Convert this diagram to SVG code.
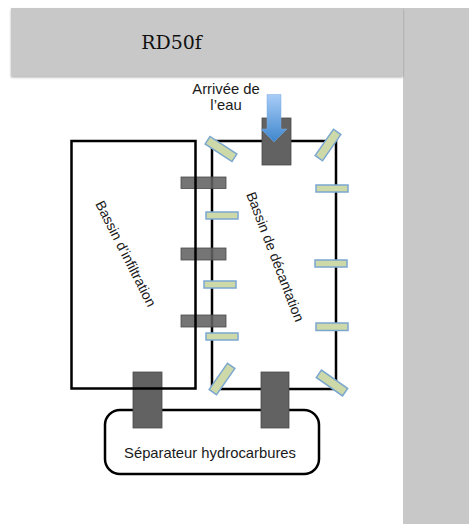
<svg xmlns="http://www.w3.org/2000/svg" width="469" height="524" viewBox="0 0 469 524">
<defs>
<linearGradient id="blue" x1="0" y1="0" x2="0" y2="1"><stop offset="0" stop-color="#a9cdf8"/><stop offset="1" stop-color="#3e86cd"/></linearGradient>
<filter id="sh" x="-5%" y="-5%" width="110%" height="115%"><feDropShadow dx="0" dy="1.500" stdDeviation="1" flood-color="#000" flood-opacity=".3"/></filter>
</defs>
<style>
.basin{fill:none;stroke:#000;stroke-width:2.500}
.block{fill:#626262;stroke:#4a4a4a;stroke-width:.8}
.thin{fill-opacity:.88}
.gate{fill:#cdd9a8;stroke:#7ba7cf;stroke-width:1.500}
text{font-family:"Liberation Sans",Arial,sans-serif;font-size:14.800px;fill:#1a1a1a;text-anchor:middle}
.rot{font-size:14px}
</style>
<rect width="469" height="524" fill="#fff"/>
<g id="side"><rect x="403" y="8" width="66" height="516" fill="#c8c8c8"/></g>
<g id="header"><rect x="11" y="8" width="392" height="68" fill="#c8c8c8" filter="url(#sh)"/>
<text x="171.500" y="49" style="font-family:'DejaVu Serif',serif;font-size:19px;fill:#111">RD50f</text></g>
<g id="connectors">
<rect id="basin-decantation" class="basin" x="212" y="141" width="124" height="248"/>
<rect id="separator" x="105" y="410" width="214" height="64" rx="15" fill="#fff" stroke="#000" stroke-width="2.500"/>
</g>
<g id="blocks">
<rect class="block" x="262" y="118" width="29" height="47"/>
<rect class="block thin" x="181" y="177" width="45" height="11.500"/>
<rect class="block thin" x="181" y="248" width="45" height="12"/>
<rect class="block thin" x="181" y="315" width="45" height="12"/>
<rect class="block" x="133" y="372" width="29" height="56"/>
<rect class="block" x="261" y="372" width="28" height="56"/>
</g>
<g id="basin-left">
<rect id="basin-infiltration" class="basin" x="71.500" y="141" width="124" height="247.500"/>
</g>
<g id="gates">
<rect class="gate" x="-16" y="-4.500" width="32" height="9" transform="translate(221 149) rotate(33)"/>
<rect class="gate" x="-16" y="-4.500" width="32" height="9" transform="translate(328 145) rotate(-55)"/>
<rect class="gate" x="316" y="185" width="32" height="7"/>
<rect class="gate" x="206" y="212" width="32" height="7"/>
<rect class="gate" x="204" y="281" width="32" height="7"/>
<rect class="gate" x="206" y="333" width="32" height="7"/>
<rect class="gate" x="315" y="260" width="32" height="7"/>
<rect class="gate" x="316" y="323" width="32" height="7.500"/>
<rect class="gate" x="-16" y="-4.500" width="32" height="9" transform="translate(222 379) rotate(-55)"/>
<rect class="gate" x="-16" y="-4.500" width="32" height="9" transform="translate(332 383) rotate(35)"/>
</g>
<g id="arrow"><path d="M267 94.500H281V129H287L274 142L261 129H267Z" fill="url(#blue)" stroke="#7aa9dc" stroke-width=".5"/></g>
<g id="labels">
<text x="226" y="94">Arrivée de</text>
<text x="226" y="110">l’eau</text>
<text class="rot" transform="translate(125 254) rotate(63)" y="4">Bassin d’infiltration</text>
<text class="rot" transform="translate(274.500 257) rotate(69)" y="4">Bassin de décantation</text>
<text x="210" y="458">Séparateur hydrocarbures</text>
</g>
</svg>
